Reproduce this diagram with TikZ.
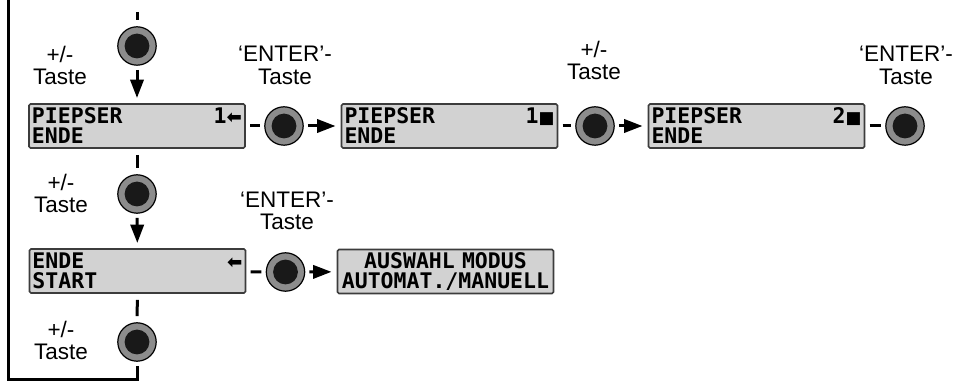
\documentclass[tikz,border=0pt]{standalone}
\usepackage{fontspec}
\setmainfont{Liberation Sans}
\newfontfamily\lcdfont{DejaVu Sans Mono}
\newfontfamily\symfont{DejaVu Sans}
\usepackage{tikz}
\usetikzlibrary{arrows.meta}
\definecolor{keyring}{HTML}{8C8C8C}
\definecolor{lcdgray}{HTML}{D2D2D2}
\definecolor{lcdedge}{HTML}{3C3C3C}
\newcommand{\cursor}{{\symfont\fontsize{12}{12}\selectfont ■}}
\newcommand{\back}{{\symfont\bfseries\fontsize{13}{13}\selectfont ⬅}}

\begin{document}
\begin{tikzpicture}[x=0.25mm, y=-0.25mm,
    lcd/.style={draw=lcdedge, line width=0.4mm, fill=lcdgray, rounded corners=0.4mm,
        text width=52.5mm, align=left, inner xsep=0.75mm, inner ysep=0pt, minimum height=11mm,
        font=\lcdfont\bfseries\fontsize{15.3}{14.2}\selectfont},
    key/.style={circle, draw, line width=0.3mm, fill=keyring, minimum size=9.6mm, inner sep=0pt,
        path picture={\fill[black!90] (path picture bounding box.center) circle (3.1mm);}},
    lbl/.style={align=center, inner sep=0pt, font=\fontsize{16}{16}\selectfont},
    go/.style={-{Triangle[length=4.6mm,width=3.3mm]}, line width=0.75mm, shorten <=1mm, shorten >=1.3mm},
    gap/.style={line width=0.75mm, shorten <=1.5mm, shorten >=1.5mm},
    stub/.style={line width=0.75mm, shorten <=1.1mm, shorten >=1.1mm}]
        \useasboundingbox (0,0) rectangle (963,382);
        \coordinate (T) at (137,12);
        \coordinate (C1) at (137,380);
        \coordinate (C2) at (8,380);
        \coordinate (C3) at (8,0);
        % displays
        \node[lcd] (D1) at (137,126) {PIEPSER\hfill 1\back\\ENDE};
        \node[lcd] (D2) at (449.5,126) {PIEPSER\hfill 1\cursor\\ENDE};
        \node[lcd] (D3) at (756.5,126) {PIEPSER\hfill 2\cursor\\ENDE};
        \node[lcd] (D4) at (137.5,271) {ENDE\hfill \back\\START};
        \node[lcd, align=center] (D5) at (445.5,271.5) {AUSWAHL MODUS\\AUTOMAT./MANUELL};
        % keys
        \node[key] (K1) at (137,46) {};
        \node[key] (K2) at (284,126) {};
        \node[key] (K3) at (595,126) {};
        \node[key] (K4) at (905,126) {};
        \node[key] (K5) at (137,194) {};
        \node[key] (K6) at (285.5,272) {};
        \node[key] (K7) at (137,342) {};
        % labels
        \node[lbl] (L1) at (60,65.5) {+/-\\Taste};
        \node[lbl] (L2) at (285,65.5) {‘ENTER’-\\Taste};
        \node[lbl] (L3) at (594,60.5) {+/-\\Taste};
        \node[lbl] (L4) at (906,65.5) {‘ENTER’-\\Taste};
        \node[lbl] (L5) at (61,193.5) {+/-\\Taste};
        \node[lbl] (L6) at (287,211) {‘ENTER’-\\Taste};
        \node[lbl] (L7) at (61,340.5) {+/-\\Taste};
        % connectors
        \draw[gap, shorten <=0pt] (T) -- (K1);
        \draw[go] (K1) -- (D1);
        \draw[stub] (D1) -- (K2);
        \draw[go] (K2) -- (D2);
        \draw[stub] (D2) -- (K3);
        \draw[go] (K3) -- (D3);
        \draw[stub] (D3) -- (K4);
        \draw[gap] (D1) -- (K5);
        \draw[go] (K5) -- (D4);
        \draw[stub] (D4) -- (K6);
        \draw[go] (K6) -- (D5);
        \draw[gap] (D4) -- (K7);
        \draw[line width=0.75mm, shorten <=1mm] (K7) -- (C1) -- (C2) -- (C3);
\end{tikzpicture}
\end{document}
